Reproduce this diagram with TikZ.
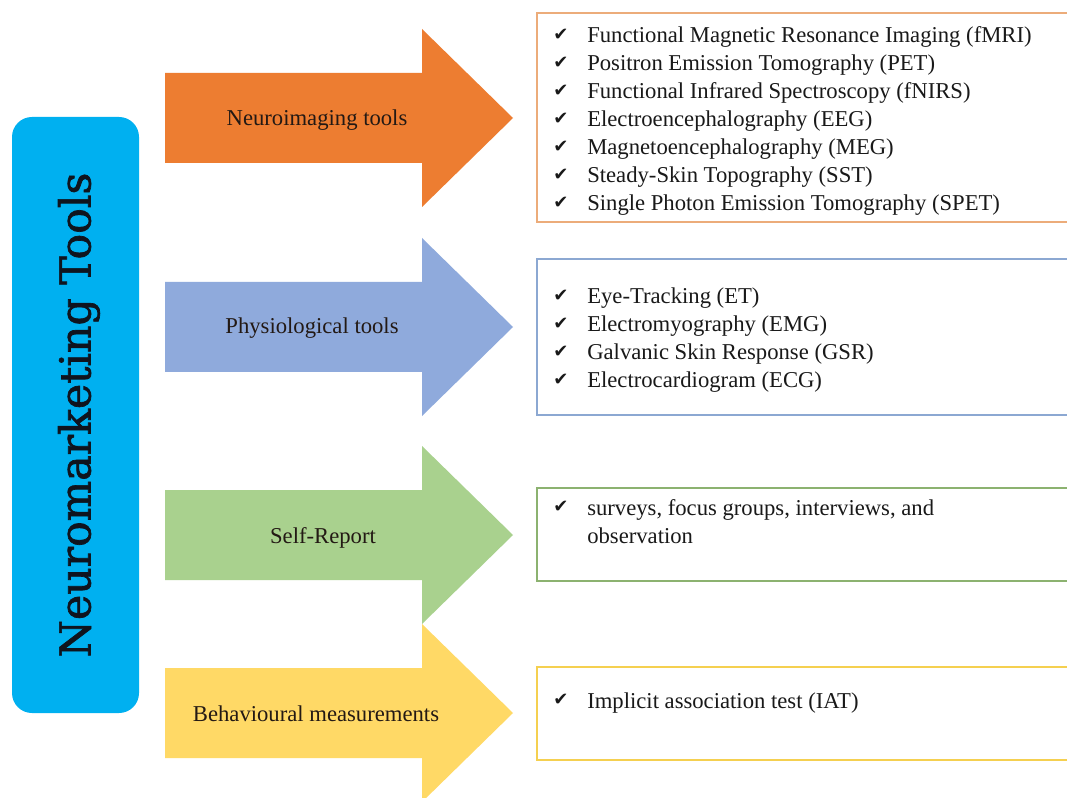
\documentclass[tikz,border=0pt]{standalone}
\usepackage{fontspec}
\setmainfont{Liberation Serif}
\newfontfamily\titlefont[FakeBold=1.6]{DejaVu Serif}
\newfontfamily\symfont{DejaVu Sans}
\definecolor{cyanbox}{RGB}{0,176,240}
\definecolor{orangeA}{RGB}{237,125,49}
\definecolor{blueA}{RGB}{143,170,220}
\definecolor{greenA}{RGB}{169,209,142}
\definecolor{yellowA}{RGB}{255,217,102}
\definecolor{orangeL}{RGB}{236,172,122}
\definecolor{blueL}{RGB}{140,168,210}
\definecolor{greenL}{RGB}{140,178,112}
\definecolor{yellowL}{RGB}{245,208,80}
\definecolor{labeltext}{RGB}{35,25,20}
\definecolor{listtext}{RGB}{25,25,25}
\definecolor{titletext}{RGB}{15,20,30}
\newcommand\chk{\makebox[25.5pt][l]{\raisebox{2pt}{\symfont\fontsize{13.5}{13.5}\selectfont ✔}}}
\newcommand\mkarrow[2]{\fill[#1] (165,{#2-45}) -- (422,{#2-45}) -- (422,{#2-89}) -- (513,#2) -- (422,{#2+89}) -- (422,{#2+45}) -- (165,{#2+45}) -- cycle;}
\begin{document}
\begin{tikzpicture}[x=0.75pt,y=-0.75pt,
  arrowlabel/.style={font=\fontsize{17}{21}\selectfont, text=labeltext, inner sep=0pt, anchor=base},
  listbox/.style={line width=1.5pt},
  listtext/.style={font=\fontsize{17}{21}\selectfont, text=listtext, anchor=base west, inner sep=0pt}]
\useasboundingbox (0,0) rectangle (1067,798);
\clip (0,0) rectangle (1067,798);
\fill[white] (0,0) rectangle (1067,798);
% left title box
\fill[cyanbox, rounded corners=15pt] (12,117) rectangle (139,713);
\node[rotate=90, font=\titlefont\fontsize{32}{36}\selectfont, text=titletext, inner sep=0pt] (title) at (79,415) {Neuromarketing Tools};
% arrows
\mkarrow{orangeA}{118}
\mkarrow{blueA}{327}
\mkarrow{greenA}{535}
\mkarrow{yellowA}{713}
\node[arrowlabel] (l1) at (317,126) {Neuroimaging tools};
\node[arrowlabel] (l2) at (312,334) {Physiological tools};
\node[arrowlabel] (l3) at (323,543) {Self-Report};
\node[arrowlabel] (l4) at (316,721) {Behavioural measurements};
% boxes
\draw[listbox, draw=orangeL] (1080,13) -- (537,13) -- (537,222) -- (1080,222);
\draw[listbox, draw=blueL] (1080,259) -- (537,259) -- (537,415) -- (1080,415);
\draw[listbox, draw=greenL] (1080,488) -- (537,488) -- (537,581) -- (1080,581);
\draw[listbox, draw=yellowL] (1080,667) -- (537,667) -- (537,760) -- (1080,760);
\node[listtext] (t1) at (553,43) {\begin{tabular}[t]{@{}l@{}}
\chk Functional Magnetic Resonance Imaging (fMRI)\\
\chk Positron Emission Tomography (PET)\\
\chk Functional Infrared Spectroscopy (fNIRS)\\
\chk Electroencephalography (EEG)\\
\chk Magnetoencephalography (MEG)\\
\chk Steady-Skin Topography (SST)\\
\chk Single Photon Emission Tomography (SPET)
\end{tabular}};
\node[listtext] (t2) at (553,304) {\begin{tabular}[t]{@{}l@{}}
\chk Eye-Tracking (ET)\\
\chk Electromyography (EMG)\\
\chk Galvanic Skin Response (GSR)\\
\chk Electrocardiogram (ECG)
\end{tabular}};
\node[listtext] (t3) at (553,515) {\begin{tabular}[t]{@{}l@{}}
\chk surveys, focus groups, interviews, and\\
\makebox[25.5pt]{}observation
\end{tabular}};
\node[listtext] (t4) at (553,708) {\begin{tabular}[t]{@{}l@{}}
\chk Implicit association test (IAT)
\end{tabular}};
\end{tikzpicture}
\end{document}
